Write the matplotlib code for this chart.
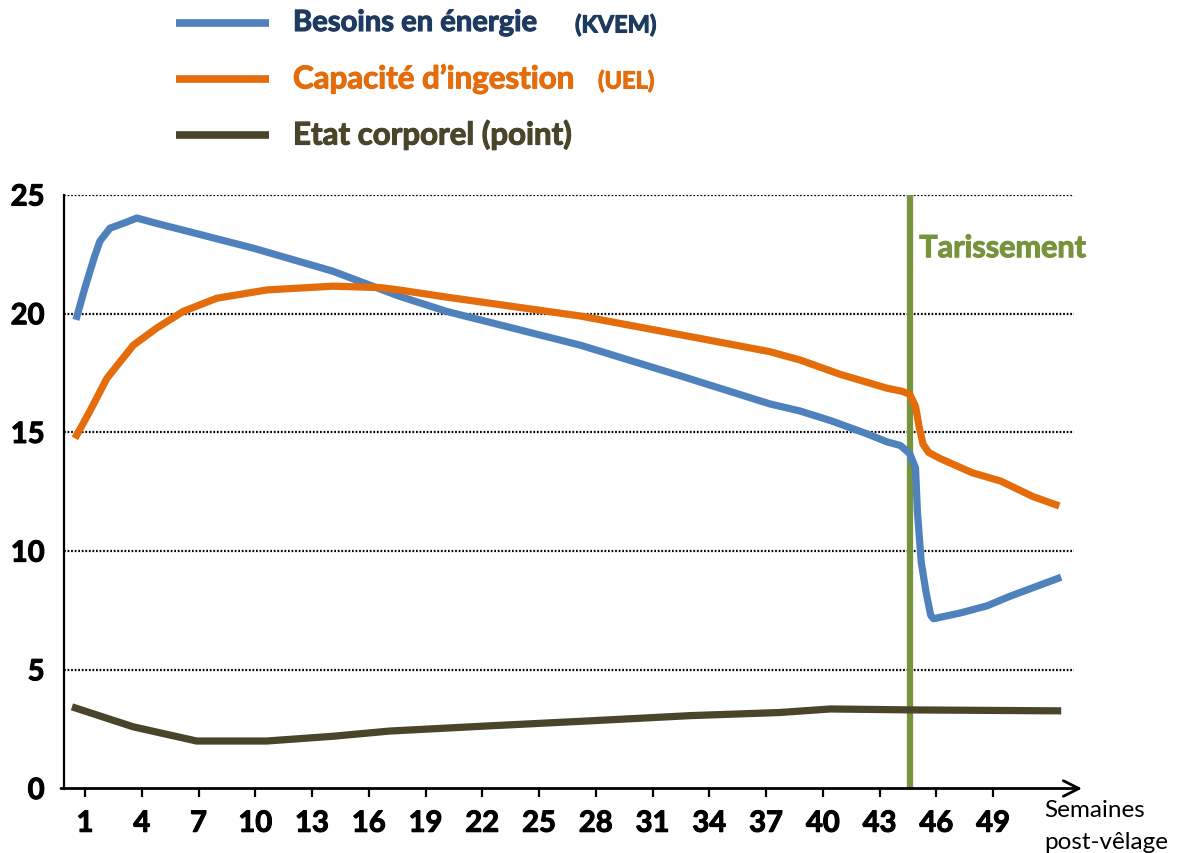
import matplotlib.pyplot as plt
import matplotlib.patheffects as pe
from matplotlib.lines import Line2D

plt.rcParams['font.family'] = ['Lato', 'DejaVu Sans']

# weeks post-calving (x) and values
weeks_besoins = [0.52, 1.0, 1.5, 1.79, 2.32, 3.2, 3.74, 4.8, 6.38, 9.9, 14.1, 17.6, 20.1, 27.2, 32.4,
                 37.2, 38.8, 40.4, 42.3, 43.4, 44.1, 44.6, 44.9, 45.0, 45.2, 45.45, 45.7, 45.85,
                 47.3, 48.7, 49.9, 52.6]
besoins = [19.74, 21.1, 22.4, 23.06, 23.6, 23.86, 24.03, 23.8, 23.48, 22.76, 21.79, 20.74, 20.1, 18.67, 17.4,
           16.2, 15.9, 15.5, 14.95, 14.6, 14.45, 14.1, 13.5, 11.65, 9.55, 8.3, 7.3, 7.15,
           7.4, 7.7, 8.1, 8.9]

weeks_capacite = [0.47, 1.26, 2.16, 3.55, 4.8, 6.2, 7.96, 10.6, 14.1, 16.6, 17.6, 20.1, 27.2,
                  33.5, 37.2, 38.8, 40.9, 43.4, 44.2, 44.6, 44.9, 45.1, 45.3, 45.6, 46.2, 47.9, 49.4,
                  51.1, 52.5]
capacite = [14.75, 15.9, 17.28, 18.67, 19.4, 20.1, 20.65, 21.0, 21.16, 21.1, 21.0, 20.7, 19.9,
            18.96, 18.4, 18.05, 17.45, 16.86, 16.73, 16.6, 16.1, 15.2, 14.5, 14.15, 13.9, 13.3, 12.95,
            12.3, 11.9]

weeks_etat = [0.31, 3.54, 6.9, 10.6, 14.1, 17.1, 22.4, 27.7, 33.0, 37.7, 40.4, 44.8, 52.6]
etat = [3.44, 2.6, 2.0, 2.0, 2.2, 2.42, 2.64, 2.85, 3.07, 3.2, 3.35, 3.31, 3.27]

tarissement_week = 44.6
week_ticks = list(range(1, 50, 3))
y_ticks = [0, 5, 10, 15, 20, 25]

blue = '#4F81BD'
orange = '#E46C0A'
brown = '#4A452A'
green = '#77933C'
navy = '#1F3A60'


def thick(color):
    # Lato Bold is a little lighter than the original bold face
    return [pe.withStroke(linewidth=0.8, foreground=color)]


fig = plt.figure(figsize=(11.78, 8.54), dpi=100)
ax = fig.add_axes([64 / 1178, 1 - 789.5 / 854, (1082 - 64) / 1178, (789.5 - 196) / 854])
ax.set_xlim(-0.11, 53.7)
ax.set_ylim(0, 25)

for yv in y_ticks[1:]:
    ax.hlines(yv, -0.11, 53.3, color='black', lw=1.6, linestyle=(0, (0.8, 0.8)), zorder=1)

ax.axvline(tarissement_week, color=green, lw=4.5, zorder=2)

kw = dict(lw=5.2, solid_capstyle='butt', solid_joinstyle='round', zorder=3)
ax.plot(weeks_besoins, besoins, color=blue, **kw)
ax.plot(weeks_capacite, capacite, color=orange, **kw)
ax.plot(weeks_etat, etat, color=brown, **kw)

ax.text(45.1, 22.76, 'Tarissement', color=green, fontsize=22, fontweight='bold', va='center',
        path_effects=thick(green))

for s in ['top', 'right', 'bottom']:
    ax.spines[s].set_visible(False)
ax.spines['left'].set_linewidth(1.6)
ax.annotate('', xy=(1, 0), xytext=(-0.003, 0), xycoords='axes fraction',
            arrowprops=dict(arrowstyle='->', lw=2, color='black', mutation_scale=28,
                            shrinkA=0, shrinkB=0))

ax.set_xticks(week_ticks)
ax.set_xticklabels([str(w) for w in week_ticks], fontsize=21, fontweight='bold')
ax.set_yticks(y_ticks)
ax.set_yticklabels([str(v) for v in y_ticks], fontsize=21, fontweight='bold')
for lab in ax.get_xticklabels() + ax.get_yticklabels():
    lab.set_path_effects(thick('black'))
ax.tick_params(axis='x', length=6, width=1.6, pad=10, direction='out')
ax.tick_params(axis='y', length=0, pad=14)

fig.text(1044 / 1178, 1 - 811 / 854, 'Semaines', fontsize=17.5, va='center', ha='left')
fig.text(1044 / 1178, 1 - 843 / 854, 'post-vêlage', fontsize=17.5, va='center', ha='left')

# legend drawn at the top
legend_items = [('Besoins en énergie', '(KVEM)', blue, navy, 24, 575, 21),
                ('Capacité d\u2019ingestion', '(UEL)', orange, orange, 80, 598, 22.5),
                ('Etat corporel (point)', '', brown, brown, 136, 0, 22.5)]
for main, unit, lc, tc, ypx, ux, fs in legend_items:
    yf = 1 - ypx / 854
    fig.add_artist(Line2D([176 / 1178, 269 / 1178], [yf, yf], color=lc, lw=5.5,
                          solid_capstyle='butt'))
    fig.text(293 / 1178, yf, main, color=tc, fontsize=fs, fontweight='bold', va='center',
             path_effects=thick(tc))
    if unit:
        fig.text(ux / 1178, yf - 0.002, unit, color=tc, fontsize=17, fontweight='bold', va='center',
                 path_effects=thick(tc))

fig.savefig('out.png', dpi=100)
